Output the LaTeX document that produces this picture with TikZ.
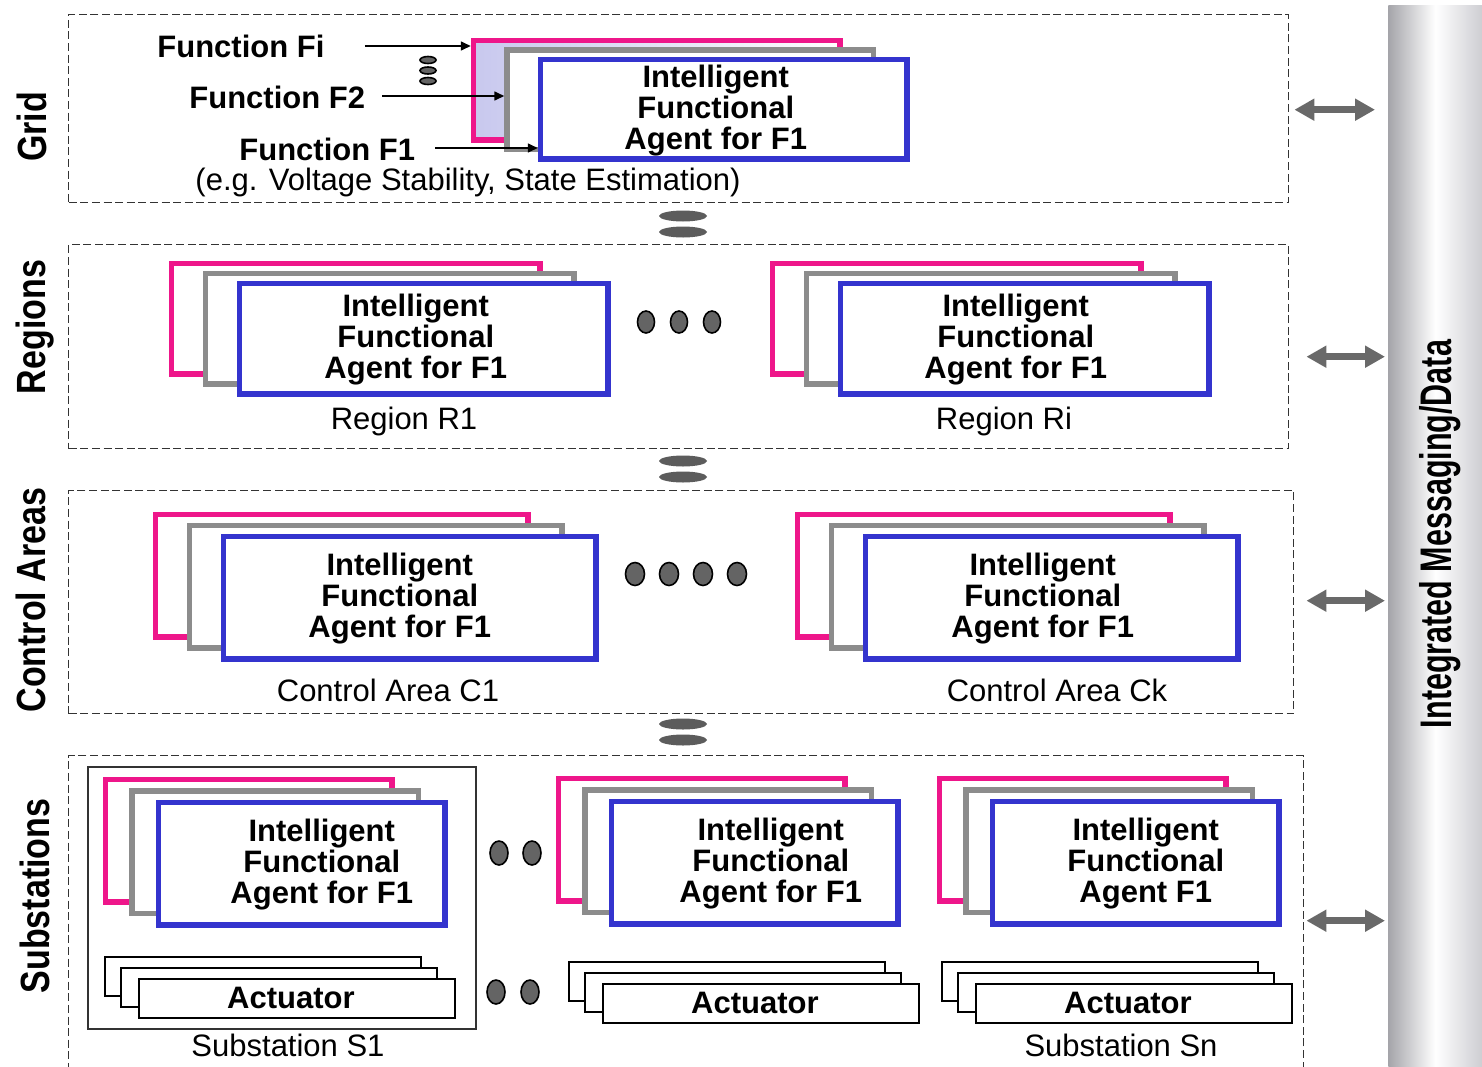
\documentclass[tikz,border=0pt]{standalone}
\usepackage{graphicx}
\usepackage{fontspec}
\setmainfont{Liberation Sans}
\usetikzlibrary{shapes.geometric,arrows.meta}

\definecolor{agpink}{RGB}{238,22,138}
\definecolor{aggray}{RGB}{140,140,140}
\definecolor{agblue}{RGB}{52,52,206}
\definecolor{dotgray}{RGB}{100,100,100}
\definecolor{eqgray}{RGB}{92,92,92}
\definecolor{arrgray}{RGB}{105,105,105}
\definecolor{lavender}{RGB}{200,200,238}
\definecolor{barside}{RGB}{165,165,170}
\definecolor{barright}{RGB}{205,205,210}

\newcommand\labfont{\fontsize{15.5}{15.5}\selectfont}

% Three overlapping agent frames (pink, gray, blue) with the agent text
% #1 name, #2 left, #3 top, #4 outer width, #5 outer height,
% #6 x offset, #7 y offset, #8 text shift, #9 text
\newcommand\agentstack[9]{%
  \node[stackbox, pinkbox, minimum width={(#4-5.5)*0.5pt}, minimum height={(#5-5.5)*0.5pt}]
    (#1-p) at ({#2+2.75},{#3+2.75}) {};
  \node[stackbox, draw=aggray, minimum width={(#4-5.5)*0.5pt}, minimum height={(#5-5.5)*0.5pt}]
    (#1-g) at ({#2+#6+2.75},{#3+#7+2.75}) {};
  \node[stackbox, draw=agblue, minimum width={(#4-5.5)*0.5pt}, minimum height={(#5-5.5)*0.5pt}]
    (#1-b) at ({#2+2*#6+2.75},{#3+2*#7+2.75}) {};
  \node[agtext] (#1-t) at ([xshift={#8*0.5pt},yshift=-0.5pt]#1-b.center) {#9};
}

% Three stacked actuator boxes; #1 name, #2 left, #3 top of the back box
\newcommand\actstack[3]{%
  \node[actbox] (#1-1) at ({#2+0.9},{#3+0.9}) {};
  \node[actbox] (#1-2) at ({#2+16.9},{#3+11.9}) {};
  \node[actbox] (#1-3) at ({#2+34.9},{#3+22.9}) {};
  \node[boldtext] (#1-t) at ([xshift=-3pt]#1-3.center) {Actuator};
}

\tikzset{
  stackbox/.style={rectangle, line width=2.75pt, fill=white, inner sep=0pt, anchor=north west},
  pinkbox/.style={draw=agpink, fill=white},
  agtext/.style={align=center, inner sep=0pt, font=\bfseries\labfont},
  boldtext/.style={inner sep=0pt, font=\bfseries\labfont},
  plaintext/.style={inner sep=0pt, font=\labfont},
  actbox/.style={rectangle, draw=black, line width=0.9pt, fill=white, inner sep=0pt,
    anchor=north west, minimum width=158.1pt, minimum height=19.6pt},
  layerbox/.style={rectangle, draw=black!80, line width=0.7pt, dash pattern=on 4pt off 1.8pt,
    inner sep=0pt, anchor=north west},
  sidelabel/.style={rotate=90, inner sep=0pt, font=\bfseries\fontsize{17}{17}\selectfont},
  eqmark/.style={ellipse, fill=eqgray, inner sep=0pt, minimum width=24pt, minimum height=5.5pt},
  dotmark/.style={ellipse, fill=dotgray, draw=black, line width=0.8pt, inner sep=0pt},
  dblarrow/.style={arrgray, line width=3.5pt,
    {Triangle[width=10.5pt,length=10pt]}-{Triangle[width=10.5pt,length=10pt]}},
  funarrow/.style={black, line width=0.8pt, -{Triangle[width=4.5pt,length=5pt]}},
}

\begin{document}
\begin{tikzpicture}[x=0.5pt,y=-0.5pt]
\useasboundingbox (0,0) rectangle (1482,1066);

% messaging bus on the right
\node[rectangle, anchor=north west, inner sep=0pt, minimum width=47pt, minimum height=533pt,
  left color=barside, right color=barright, middle color=white] (bar) at (1388,5) {};
\node[sidelabel, font=\bfseries\fontsize{15.25}{15.25}\selectfont] (lbus) at (1440,534)
  {\scalebox{1}[1.45]{Integrated Messaging/Data}};

% layers
\node[layerbox, minimum width=610pt, minimum height=94pt] (gridbox) at (68,14) {};
\node[layerbox, minimum width=610pt, minimum height=102pt] (regbox) at (68,244) {};
\node[layerbox, minimum width=612.5pt, minimum height=111.5pt] (ctlbox) at (68,490) {};
\node[layerbox, minimum width=617.5pt, minimum height=160pt] (subbox) at (68,755) {};

% layer names
\node[sidelabel] (lgrid) at (32,127) {\scalebox{1}[1.2]{Grid}};
\node[sidelabel] (lreg) at (35,327) {\scalebox{1}[1.2]{Regions}};
\node[sidelabel] (lctl) at (31,600) {\scalebox{1}[1.2]{Control Areas}};
\node[sidelabel] (lsub) at (35,896) {\scalebox{1}[1.2]{Substations}};

% grid layer
\begin{scope}
  \tikzset{pinkbox/.style={draw=agpink, left color=lavender, right color=white}}
  \agentstack{ga}{468}{35}{372}{105}{33.5}{9.5}{-8}{Intelligent\\Functional\\Agent for F1}
\end{scope}
\node[boldtext, anchor=west] (fFi) at (157,46) {Function Fi};
\node[boldtext, anchor=west] (fF2) at (189,97) {Function F2};
\node[boldtext, anchor=west] (fF1) at (239,149) {Function F1};
\draw[funarrow] ([xshift=20pt]fFi.east) -- (fFi.east -| ga-p.west);
\draw[funarrow] ([xshift=8.5pt,yshift=0.5pt]fF2.east) -- ([yshift=0.5pt]fF2.east -| ga-g.west);
\draw[funarrow] ([xshift=10pt,yshift=0.5pt]fF1.east) -- ([yshift=0.5pt]fF1.east -| ga-b.west);
\node[dotmark, minimum width=8pt, minimum height=3.5pt] (gd1) at (428,60) {};
\node[dotmark, minimum width=8pt, minimum height=3.5pt] (gd2) at (428,70.5) {};
\node[dotmark, minimum width=8pt, minimum height=3.5pt] (gd3) at (428,81) {};
\node[plaintext] (gex) at (468,182) {(e.g. Voltage Stability, State Estimation)};

% regions layer
\agentstack{ra}{166}{258}{374}{116}{34}{10}{-8}{Intelligent\\Functional\\Agent for F1}
\agentstack{rb}{767}{258}{374}{116}{34}{10}{-9}{Intelligent\\Functional\\Agent for F1}
\node[plaintext] (lr1) at (404,421) {Region R1};
\node[plaintext] (lri) at (1004,421) {Region Ri};
\node[dotmark, minimum width=8.5pt, minimum height=11pt] (rd1) at (646,322) {};
\node[dotmark, minimum width=8.5pt, minimum height=11pt] (rd2) at (679,322) {};
\node[dotmark, minimum width=8.5pt, minimum height=11pt] (rd3) at (712,322) {};

% control area layer
\agentstack{ca}{150}{509}{378}{128}{34}{11}{-10}{Intelligent\\Functional\\Agent for F1}
\agentstack{cb}{792}{509}{378}{128}{34}{11}{-9}{Intelligent\\Functional\\Agent for F1}
\node[plaintext] (lc1) at (388,690) {Control Area C1};
\node[plaintext] (lck) at (1057,690) {Control Area Ck};
\node[dotmark, minimum width=9.5pt, minimum height=11.5pt] (cd1) at (635,574) {};
\node[dotmark, minimum width=9.5pt, minimum height=11.5pt] (cd2) at (669,574) {};
\node[dotmark, minimum width=9.5pt, minimum height=11.5pt] (cd3) at (703,574) {};
\node[dotmark, minimum width=9.5pt, minimum height=11.5pt] (cd4) at (737,574) {};

% substation layer
\node[rectangle, draw=black!80, line width=0.75pt, inner sep=0pt, anchor=north west,
  minimum width=194pt, minimum height=131pt] (s1box) at (87,766) {};
\agentstack{sa}{100}{774}{292}{128}{26.5}{11.5}{20}{Intelligent\\Functional\\Agent for F1}
\agentstack{sb}{553}{773}{292}{128}{26.5}{11.5}{16}{Intelligent\\Functional\\Agent for F1}
\agentstack{sc}{934}{773}{292}{128}{26.5}{11.5}{10}{Intelligent\\Functional\\Agent F1}
\actstack{aa}{103}{955}
\actstack{ab}{567}{960}
\actstack{ac}{940}{960}
\node[plaintext] (ls1) at (288,1045) {Substation S1};
\node[plaintext] (lsn) at (1121,1045) {Substation Sn};
\node[dotmark, minimum width=9pt, minimum height=12pt] (sd1) at (499,853) {};
\node[dotmark, minimum width=9pt, minimum height=12pt] (sd2) at (532,853) {};
\node[dotmark, minimum width=9pt, minimum height=12pt] (sd3) at (496,992) {};
\node[dotmark, minimum width=9pt, minimum height=12pt] (sd4) at (530,992) {};

% links between layers
\node[eqmark] (e1a) at (683,216) {};
\node[eqmark] (e1b) at (683,232) {};
\node[eqmark] (e2a) at (683,461) {};
\node[eqmark] (e2b) at (683,477) {};
\node[eqmark] (e3a) at (683,724) {};
\node[eqmark] (e3b) at (683,740) {};

% links to the messaging bus
\draw[dblarrow, shorten <=2.5pt, shorten >=6.5pt]
  ([yshift=-0.5pt]gridbox.east) -- ([yshift=-0.5pt]gridbox.east -| bar.west);
\draw[dblarrow, shorten <=8.5pt, shorten >=1.5pt]
  ([yshift=-5pt]regbox.east) -- ([yshift=-5pt]regbox.east -| bar.west);
\draw[dblarrow, shorten <=6pt, shorten >=1.5pt]
  ([yshift=0.75pt]ctlbox.east) -- ([yshift=0.75pt]ctlbox.east -| bar.west);
\draw[dblarrow, shorten <=1pt, shorten >=1.5pt]
  ([yshift=-2.5pt]subbox.east) -- ([yshift=-2.5pt]subbox.east -| bar.west);
\end{tikzpicture}
\end{document}
